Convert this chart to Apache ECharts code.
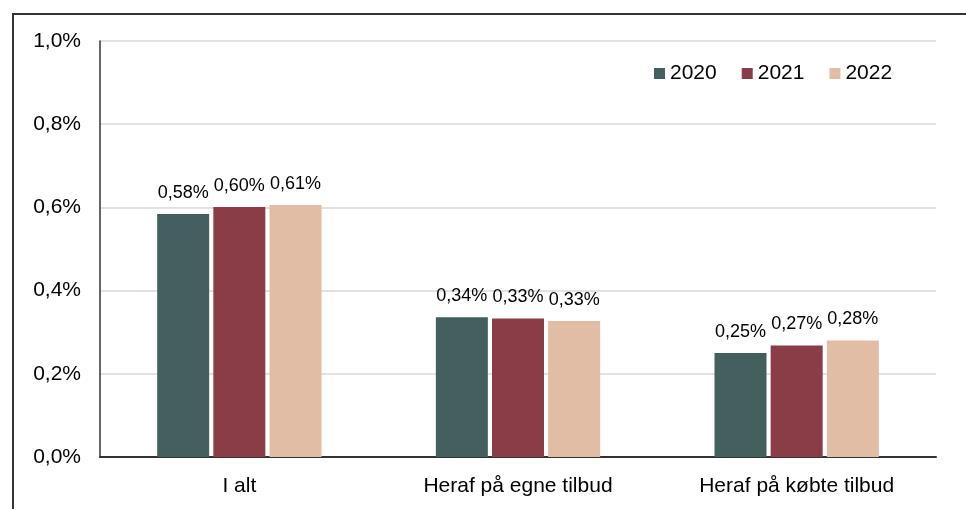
<!DOCTYPE html>
<html><head><meta charset="utf-8">
<script src="https://cdn.jsdelivr.net/npm/echarts@6/dist/echarts.min.js"></script>
<style>html,body{margin:0;padding:0;background:#fff}#c{width:966px;height:509px}</style>
</head><body><div id="c"></div>
<script>
const categories = ['I alt', 'Heraf på egne tilbud', 'Heraf på købte tilbud'];
const years = ['2020', '2021', '2022'];
const values2020 = [0.584, 0.336, 0.250];
const values2021 = [0.601, 0.333, 0.268];
const values2022 = [0.606, 0.327, 0.280];
const colors = ['#43605E', '#8A3D46', '#E2BDA6'];
const seriesValues = [values2020, values2021, values2022];

const font = 'Arial, "Liberation Sans", sans-serif';
const chart = echarts.init(document.getElementById('c'), null, {renderer: 'canvas'});
chart.setOption({
  animation: false,
  backgroundColor: '#fff',
  graphic: [{
    type: 'rect', shape: {x: 13, y: 14, width: 970, height: 520},
    style: {fill: 'none', stroke: '#333', lineWidth: 2}, silent: true, z: 10
  }],
  grid: {left: 100, right: 30, top: 41, bottom: 52, containLabel: false},
  legend: {
    data: years, left: 654, top: 63, padding: 0, itemWidth: 11, itemHeight: 11, itemGap: 25,
    icon: 'rect',
    textStyle: {fontFamily: font, fontSize: 21, color: '#000'}
  },
  xAxis: {
    type: 'category', data: categories,
    axisLine: {lineStyle: {color: '#333', width: 2}},
    axisTick: {show: false},
    axisLabel: {fontFamily: font, fontSize: 21, color: '#000', margin: 19}
  },
  yAxis: {
    type: 'value', min: 0, max: 1.0, interval: 0.2,
    axisLine: {show: true, lineStyle: {color: '#333', width: 1.5}},
    axisTick: {show: false},
    splitLine: {lineStyle: {color: '#D9D9D9', width: 1.5}},
    axisLabel: {fontFamily: font, fontSize: 21, color: '#000', margin: 19,
      formatter: v => v.toFixed(1).replace('.', ',') + '%'}
  },
  series: years.map((y, i) => ({
    name: y, type: 'bar', data: seriesValues[i],
    barWidth: 52, barGap: '8%',
    itemStyle: {color: colors[i]},
    label: {show: true, position: 'top', distance: 12, fontFamily: font, fontSize: 18, color: '#000',
      formatter: p => p.value.toFixed(2).replace('.', ',') + '%'}
  }))
});
</script></body></html>
